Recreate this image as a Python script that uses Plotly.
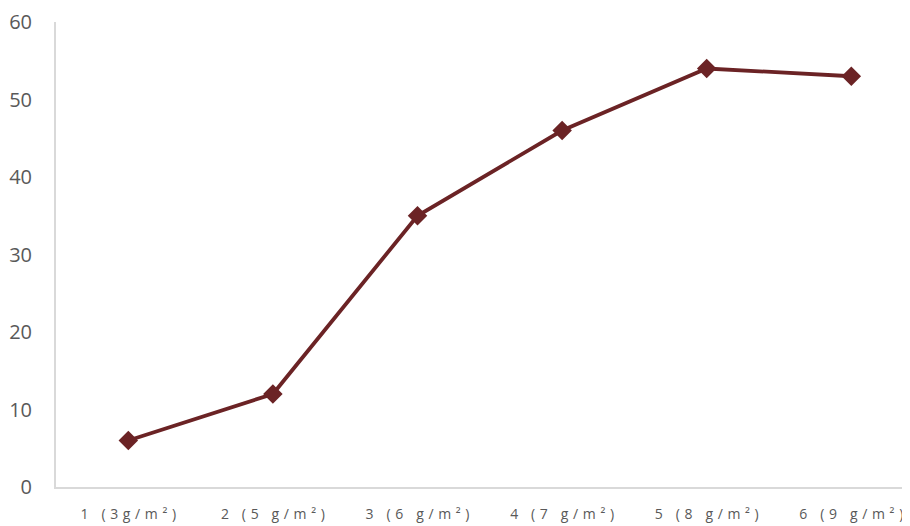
import plotly.graph_objects as go

categories = ['1 (3g/m²)', '2 (5 g/m²)', '3 (6 g/m²)', '4 (7 g/m²)', '5 (8 g/m²)', '6 (9 g/m²)']
values = [6, 12, 35, 46, 54, 53]
y_ticks = [0, 10, 20, 30, 40, 50, 60]


def spaced(label):
    # the original labels are drawn with wide letter spacing
    return '\u2009\u2009'.join(label)


fig = go.Figure()
fig.add_trace(go.Scatter(x=categories, y=values, mode='lines+markers',
                         line=dict(color='#6B2325', width=3.8),
                         marker=dict(symbol='diamond', size=15, color='#6B2325')))

# the page has an 8px body margin, so the figure is a little smaller than the window
fig.update_layout(
    width=902, height=518,
    margin=dict(l=48, r=0, t=14, b=39, autoexpand=False),
    plot_bgcolor='white', paper_bgcolor='white',
    showlegend=False,
    font=dict(family='Open Sans, sans-serif', color='#595959'),
    xaxis=dict(type='category', range=[-0.5, 5.406], automargin=False,
               tickvals=categories, ticktext=[spaced(c) for c in categories],
               showgrid=False, showline=True, linecolor='#D9D9D9', linewidth=2,
               ticks='', ticklabelstandoff=13, tickfont=dict(size=14),
               zeroline=False),
    yaxis=dict(range=[0, 60], tickvals=y_ticks, showgrid=False, automargin=False,
               showline=True, linecolor='#D9D9D9', linewidth=2,
               ticks='', ticklabelstandoff=18, tickfont=dict(size=20),
               zeroline=False),
)

fig.write_html('out.html')
